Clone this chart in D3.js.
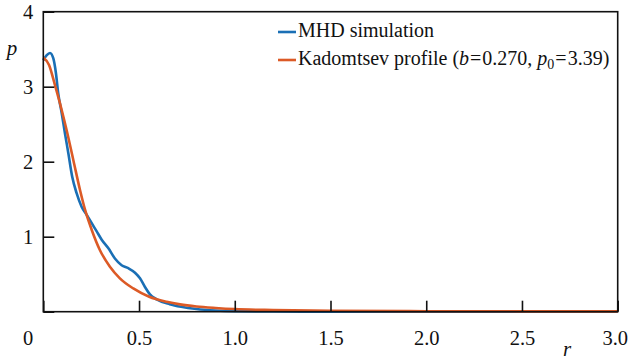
<!DOCTYPE html>
<html>
<head>
<meta charset="utf-8">
<script src="https://cdn.jsdelivr.net/npm/d3@7/dist/d3.min.js"></script>
<style>
  html, body { margin: 0; padding: 0; background: #fff; }
  svg { display: block; }
</style>
</head>
<body>
<svg id="chart" width="630" height="363"></svg>
<script>
// ---- data ----
const xTicks = [0, 0.5, 1.0, 1.5, 2.0, 2.5, 3.0];
const xTickLabels = ["0", "0.5", "1.0", "1.5", "2.0", "2.5", "3.0"];
const yTicks = [0, 1, 2, 3, 4];
const yTickLabels = ["", "1", "2", "3", "4"];

const mhdR = [0, 0.018, 0.035, 0.052, 0.066, 0.078, 0.096, 0.113, 0.131, 0.151, 0.174, 0.2, 0.227, 0.253, 0.279, 0.305, 0.34, 0.374, 0.409, 0.444, 0.479, 0.505, 0.531, 0.557, 0.592, 0.66, 0.72, 0.8, 0.9, 1.0, 1.2, 1.5, 2.0, 2.5, 3.0];
const mhdP = [3.35, 3.42, 3.45, 3.38, 3.18, 2.91, 2.65, 2.38, 2.11, 1.80, 1.58, 1.40, 1.29, 1.18, 1.07, 0.96, 0.845, 0.71, 0.62, 0.58, 0.52, 0.445, 0.33, 0.23, 0.165, 0.10, 0.065, 0.035, 0.015, 0.006, 0.002, 0.001, 0, 0, 0];

const kadR = [0, 0.03, 0.061, 0.096, 0.122, 0.157, 0.192, 0.218, 0.253, 0.296, 0.348, 0.4, 0.47, 0.553, 0.644, 0.714, 0.8, 0.9, 1.0, 1.2, 1.5, 2.0, 2.5, 3.0];
const kadP = [3.39, 3.29, 3.02, 2.69, 2.42, 2.02, 1.62, 1.36, 1.09, 0.82, 0.60, 0.445, 0.31, 0.20, 0.133, 0.098, 0.07, 0.05, 0.035, 0.022, 0.013, 0.007, 0.005, 0.004];

const seriesNames = ["MHD simulation", "Kadomtsev profile"];
const seriesColors = ["#1a6fb5", "#dc5a26"];

const FONT = "'Liberation Serif', 'Times New Roman', serif";

// ---- layout ----
const svg = d3.select("#chart").style("font-family", FONT);
const mLeft = 43.3, mRight = 617.7, mTop = 11.7, mBottom = 311.7;

const x = d3.scaleLinear().domain([0, 3]).range([mLeft, mRight]);
const y = d3.scaleLinear().domain([0, 4]).range([mBottom, mTop]);

const line = d3.line()
  .x(d => x(d[0]))
  .y(d => y(d[1]))
  .curve(d3.curveMonotoneX);

const mhd = mhdR.map((r, i) => [r, mhdP[i]]);
const kad = kadR.map((r, i) => [r, kadP[i]]);

// curves
svg.append("path").datum(mhd)
  .attr("d", line).attr("fill", "none")
  .attr("stroke", seriesColors[0]).attr("stroke-width", 2.6)
  .attr("stroke-linejoin", "round");
svg.append("path").datum(kad)
  .attr("d", line).attr("fill", "none")
  .attr("stroke", seriesColors[1]).attr("stroke-width", 2.6)
  .attr("stroke-linejoin", "round");

// frame
svg.append("rect")
  .attr("x", mLeft).attr("y", mTop)
  .attr("width", mRight - mLeft).attr("height", mBottom - mTop)
  .attr("fill", "none").attr("stroke", "#111").attr("stroke-width", 1.6);

// x axis (ticks inward)
const xAxis = d3.axisBottom(x).tickValues(xTicks).tickSize(-11).tickPadding(19)
  .tickFormat((d, i) => xTickLabels[i]);
const gx = svg.append("g").attr("transform", `translate(0,${mBottom})`).call(xAxis)
  .attr("font-family", null).style("font-family", FONT);
gx.select(".domain").remove();
gx.selectAll(".tick line").attr("stroke", "#111").attr("stroke-width", 1.6);
gx.selectAll(".tick text")
  .style("font-size", "20.5px").style("font-family", FONT).attr("fill", "#111")
  .attr("dx", (d, i) => i === 0 ? -15.6 : (i === xTicks.length - 1 ? -3 : 0));

// y axis (ticks inward)
const yAxis = d3.axisLeft(y).tickValues(yTicks).tickSize(-11).tickPadding(10)
  .tickFormat((d, i) => yTickLabels[i]);
const gy = svg.append("g").attr("transform", `translate(${mLeft},0)`).call(yAxis)
  .attr("font-family", null).style("font-family", FONT);
gy.select(".domain").remove();
gy.selectAll(".tick line").attr("stroke", "#111").attr("stroke-width", 1.6);
gy.selectAll(".tick text")
  .style("font-size", "20.5px").style("font-family", FONT).attr("fill", "#111");

// axis titles
svg.append("text").attr("x", 12).attr("y", 55).attr("text-anchor", "middle")
  .style("font-family", FONT).style("font-size", "21px").style("font-style", "italic")
  .attr("fill", "#111").text("p");
svg.append("text").attr("x", 567).attr("y", 356).attr("text-anchor", "middle")
  .style("font-family", FONT).style("font-size", "21px").style("font-style", "italic")
  .attr("fill", "#111").text("r");

// legend
const lgX = 278, lgLine = 18, lgText = 298;
const rows = [37, 65];
rows.forEach((ry, i) => {
  svg.append("line")
    .attr("x1", lgX).attr("x2", lgX + lgLine)
    .attr("y1", ry - 5).attr("y2", ry - 5)
    .attr("stroke", seriesColors[i]).attr("stroke-width", 2.6);
});
svg.append("text").attr("x", lgText).attr("y", rows[0])
  .style("font-family", FONT).style("font-size", "20px").attr("fill", "#111")
  .text(seriesNames[0]);

const t2 = svg.append("text").attr("x", lgText).attr("y", rows[1])
  .style("font-family", FONT).style("font-size", "20px").attr("fill", "#111");
t2.append("tspan").text(seriesNames[1] + " (");
t2.append("tspan").style("font-style", "italic").text("b");
t2.append("tspan").attr("dx", 1).text("=");
t2.append("tspan").attr("dx", 1).text("0.270, ");
t2.append("tspan").style("font-style", "italic").text("p");
t2.append("tspan").attr("dy", 4).style("font-size", "14px").text("0");
t2.append("tspan").attr("dy", -4).attr("dx", 1).text("=");
t2.append("tspan").attr("dx", 1).text("3.39)");
</script>
</body>
</html>
